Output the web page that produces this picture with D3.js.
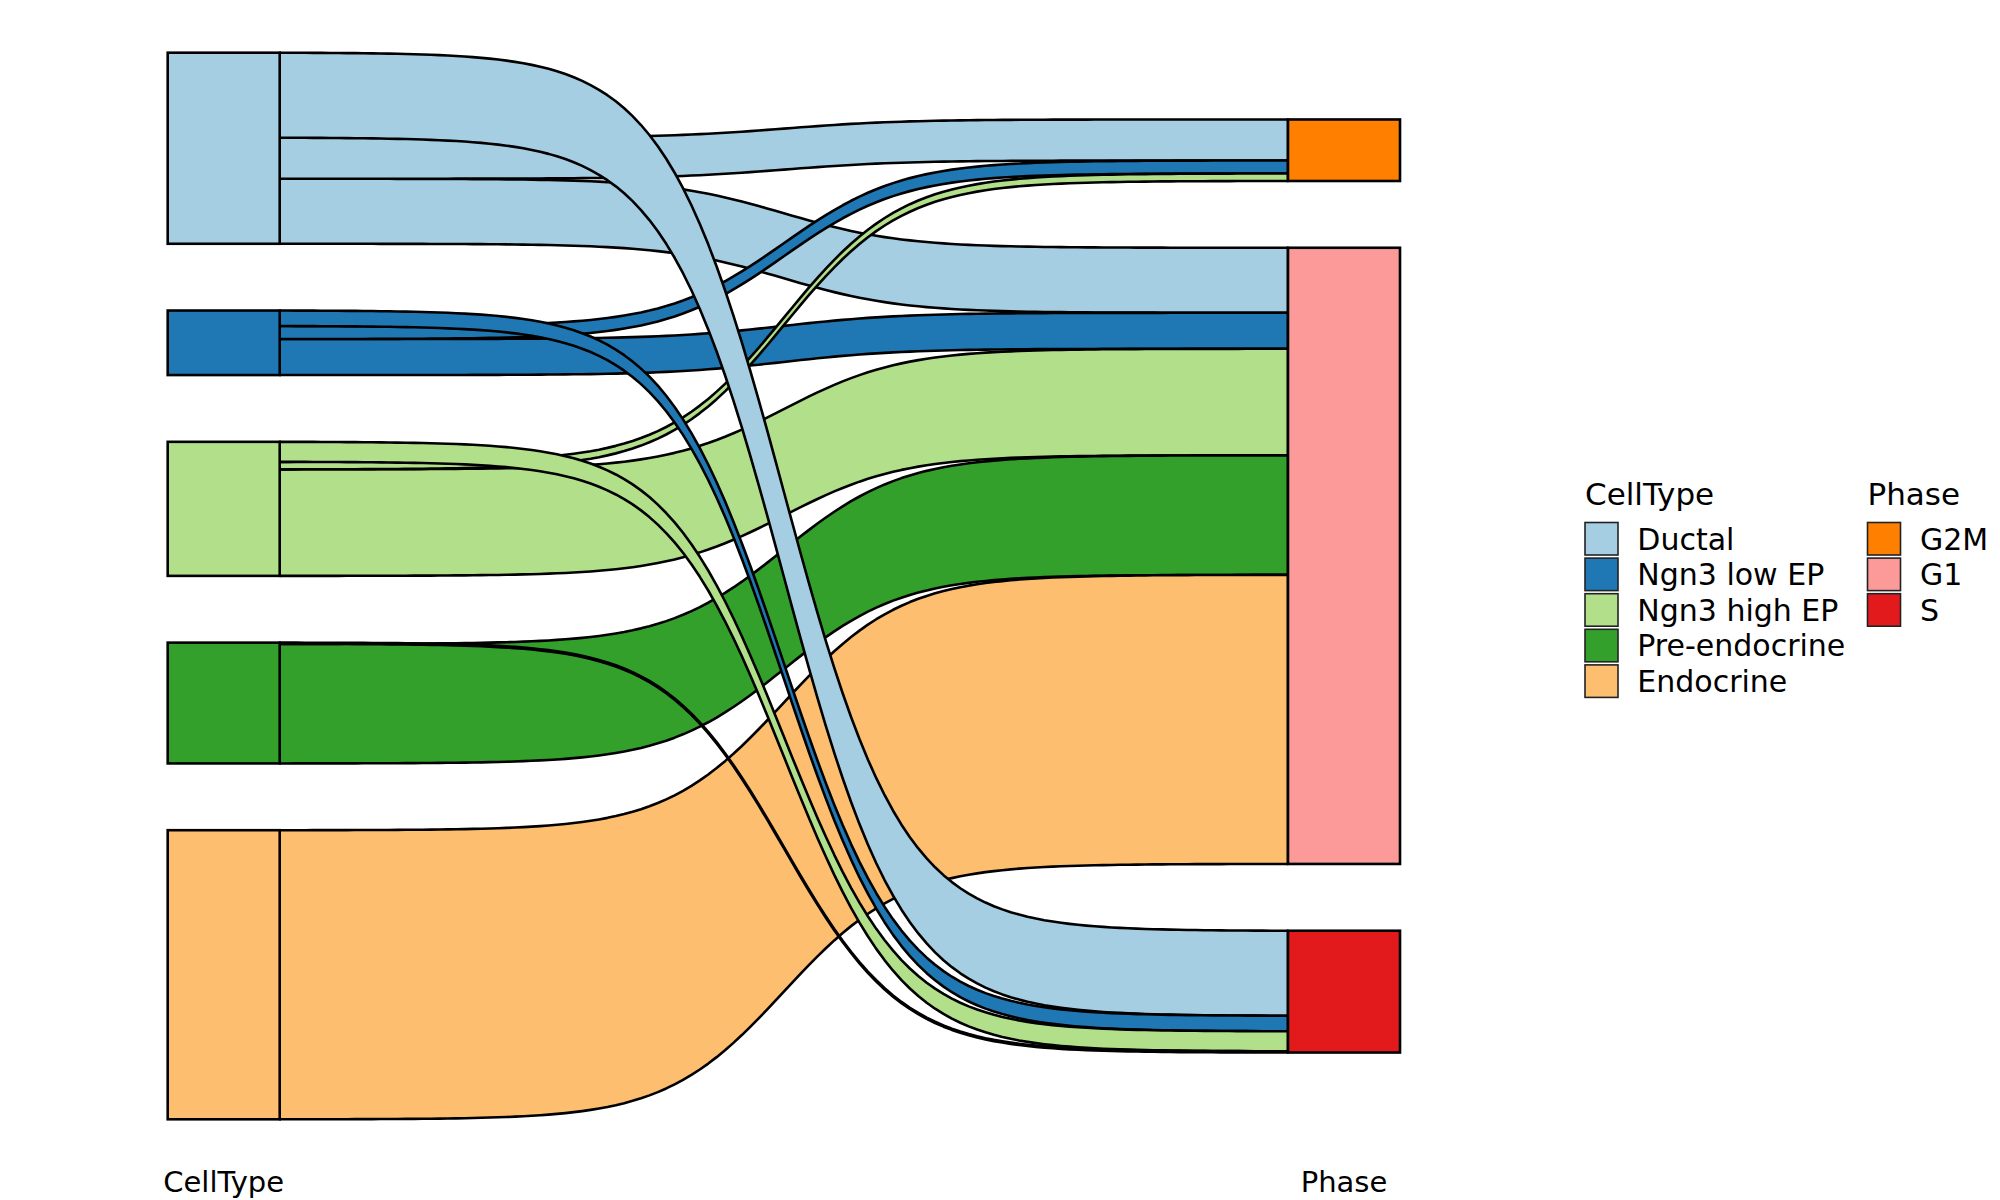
<!DOCTYPE html>
<html><head><meta charset="utf-8">
<script src="https://cdn.jsdelivr.net/npm/d3@7"></script>
<style>body{margin:0;background:#fff}</style>
</head><body><svg id="chart" width="2000" height="1200"></svg>
<script>
// ---- data ----
const cellTypes = ["Ductal", "Ngn3 low EP", "Ngn3 high EP", "Pre-endocrine", "Endocrine"];
const phases = ["G2M", "G1", "S"];
// number of cells from each cell type going to each phase
const toG2M = [164, 52, 30, 0, 0];
const toG1  = [260, 144, 426, 478, 1156];
const toS   = [340, 62, 80, 5, 0];
const cellTypeColors = ["#A6CEE3", "#1F78B4", "#B2DF8A", "#33A02C", "#FDBF6F"];
const phaseColors = ["#FF7F00", "#FB9A99", "#E31A1C"];
const axisLabels = ["CellType", "Phase"];

// ---- layout ----
const byPhase = { "G2M": toG2M, "G1": toG1, "S": toS };
const leftLodeOrder = ["S", "G2M", "G1"];   // order of flows inside a cell-type stratum
const drawOrder = ["G1", "G2M", "S"];
const gap = 267;           // space between strata, in count units
const strataW = 112;
const lw = 2.6;
const font = "DejaVu Sans";

const ctTotals = cellTypes.map((c, i) => phases.reduce((s, p) => s + byPhase[p][i], 0));
const phTotals = phases.map(p => d3.sum(byPhase[p]));
const total = d3.sum(ctTotals);
const leftSpan = total + gap * (cellTypes.length - 1);
const rightSpan = total + gap * (phases.length - 1);
const maxSpan = Math.max(leftSpan, rightSpan);

const y = d3.scaleLinear().domain([0, maxSpan]).range([52.7, 1119.3]);
const x = d3.scaleLinear().domain([0, 1]).range([223.7, 1344]);

const svg = d3.select("#chart");

// strata positions
const leftStrata = [];
{
  let cur = (maxSpan - leftSpan) / 2;
  cellTypes.forEach((c, i) => {
    leftStrata.push({ name: c, y0: cur, y1: cur + ctTotals[i], color: cellTypeColors[i] });
    cur += ctTotals[i] + gap;
  });
}
const rightStrata = [];
{
  let cur = (maxSpan - rightSpan) / 2;
  phases.forEach((p, j) => {
    rightStrata.push({ name: p, y0: cur, y1: cur + phTotals[j], color: phaseColors[j] });
    cur += phTotals[j] + gap;
  });
}

// flows
const flows = [];
cellTypes.forEach((c, i) => {
  let cur = leftStrata[i].y0;
  leftLodeOrder.forEach(p => {
    const v = byPhase[p][i];
    if (v > 0) flows.push({ ct: i, ph: phases.indexOf(p), value: v, l0: cur, l1: cur + v });
    cur += v;
  });
});
phases.forEach((p, j) => {
  let cur = rightStrata[j].y0;
  cellTypes.forEach((c, i) => {
    const f = flows.find(d => d.ct === i && d.ph === j);
    if (f) { f.r0 = cur; f.r1 = cur + f.value; cur += f.value; }
  });
});

const k = 17;
const lg = v => 1 / (1 + Math.exp(-k * (v - 0.5)));
const sig = t => (lg(t) - lg(0)) / (lg(1) - lg(0));
const N = 120;
const xA = x(0) + strataW / 2, xB = x(1) - strataW / 2;

function flowPath(f) {
  const pts = [];
  for (let n = 0; n <= N; n++) {
    const t = n / N;
    pts.push([xA + t * (xB - xA), y(f.l0) + sig(t) * (y(f.r0) - y(f.l0))]);
  }
  for (let n = N; n >= 0; n--) {
    const t = n / N;
    pts.push([xA + t * (xB - xA), y(f.l1) + sig(t) * (y(f.r1) - y(f.l1))]);
  }
  return d3.line()(pts) + "Z";
}

const sorted = [];
drawOrder.forEach(p => flows.filter(f => phases[f.ph] === p).forEach(f => sorted.push(f)));

svg.append("g").selectAll("path").data(sorted).join("path")
  .attr("d", flowPath)
  .attr("fill", d => cellTypeColors[d.ct])
  .attr("stroke", "#000").attr("stroke-width", lw).attr("stroke-linejoin", "round");

// strata
svg.append("g").selectAll("rect").data(leftStrata).join("rect")
  .attr("x", x(0) - strataW / 2).attr("width", strataW)
  .attr("y", d => y(d.y0)).attr("height", d => y(d.y1) - y(d.y0))
  .attr("fill", d => d.color).attr("stroke", "#000").attr("stroke-width", lw);
svg.append("g").selectAll("rect").data(rightStrata).join("rect")
  .attr("x", x(1) - strataW / 2).attr("width", strataW)
  .attr("y", d => y(d.y0)).attr("height", d => y(d.y1) - y(d.y0))
  .attr("fill", d => d.color).attr("stroke", "#000").attr("stroke-width", lw);

// axis labels
svg.append("g").selectAll("text").data(axisLabels).join("text")
  .attr("x", (d, i) => x(i)).attr("y", 1192)
  .attr("text-anchor", "middle")
  .attr("font-family", font).attr("font-size", 29).attr("fill", "#000")
  .text(d => d);

// legends
function legend(title, names, colors, lx, tx) {
  const g = svg.append("g");
  g.append("text").attr("x", lx).attr("y", 505)
    .attr("font-family", font).attr("font-size", 31).attr("fill", "#000").text(title);
  const items = g.selectAll("g.item").data(names).join("g").attr("class", "item");
  items.append("rect")
    .attr("x", lx).attr("y", (d, i) => 522.5 + i * 35.6)
    .attr("width", 33).attr("height", 32.5)
    .attr("fill", (d, i) => colors[i]).attr("stroke", "#222").attr("stroke-width", 1.6);
  items.append("text")
    .attr("x", tx).attr("y", (d, i) => 522.5 + i * 35.6 + 16.25 + 10.8)
    .attr("font-family", font).attr("font-size", 30).attr("fill", "#000")
    .text(d => d);
}
legend("CellType", cellTypes, cellTypeColors, 1585, 1637.3);
legend("Phase", phases, phaseColors, 1867.5, 1920);
</script></body></html>
